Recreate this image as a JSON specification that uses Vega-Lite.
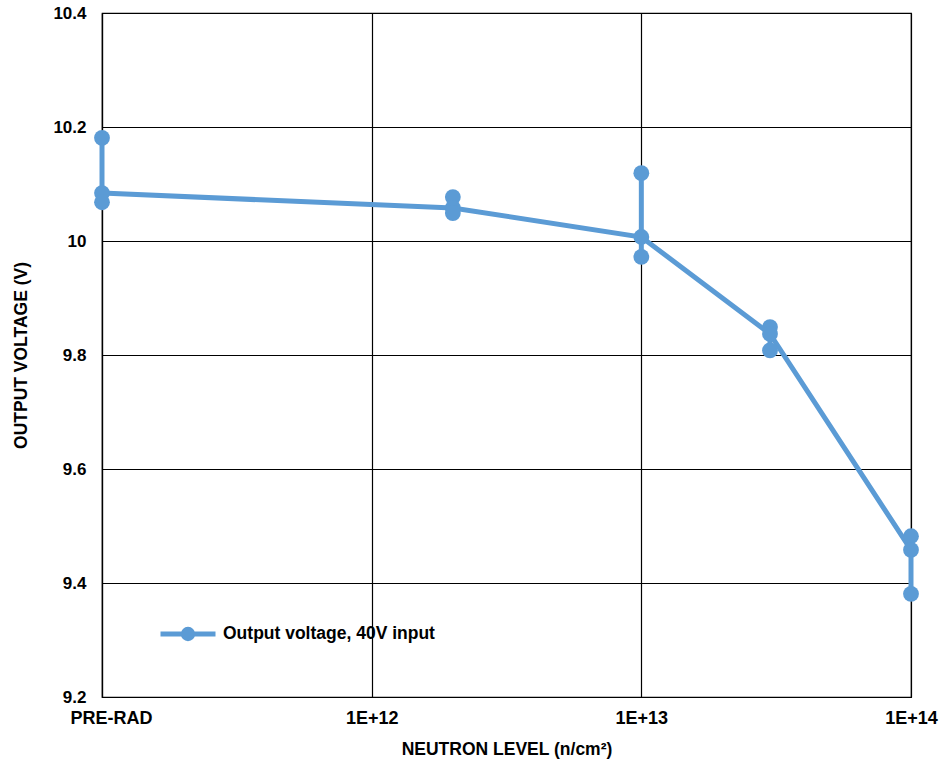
{
  "$schema": "https://vega.github.io/schema/vega-lite/v6.json",
  "autosize": "none",
  "width": 809,
  "height": 684,
  "padding": {"left": 102, "top": 13, "right": 30, "bottom": 66},
  "background": "white",
  "config": {
    "font": "Liberation Sans",
    "view": {"stroke": "black", "strokeWidth": 1.2},
    "axis": {
      "labelFont": "Liberation Sans", "labelFontWeight": "bold", "labelFontSize": 17, "labelColor": "black",
      "titleFont": "Liberation Sans", "titleFontWeight": "bold", "titleFontSize": 17.5, "titleColor": "black",
      "gridColor": "black", "gridOpacity": 1, "gridWidth": 1.2,
      "domainColor": "black", "domainWidth": 1.2, "ticks": false
    }
  },
  "data": {
    "values": [
      {"level": 1e11, "v": 10.181, "series": "Output voltage, 40V input"},
      {"level": 1e11, "v": 10.084, "series": "Output voltage, 40V input"},
      {"level": 1e11, "v": 10.068, "series": "Output voltage, 40V input"},
      {"level": 2e12, "v": 10.077, "series": "Output voltage, 40V input"},
      {"level": 2e12, "v": 10.058, "series": "Output voltage, 40V input"},
      {"level": 2e12, "v": 10.049, "series": "Output voltage, 40V input"},
      {"level": 1e13, "v": 10.119, "series": "Output voltage, 40V input"},
      {"level": 1e13, "v": 10.007, "series": "Output voltage, 40V input"},
      {"level": 1e13, "v": 9.972, "series": "Output voltage, 40V input"},
      {"level": 3e13, "v": 9.849, "series": "Output voltage, 40V input"},
      {"level": 3e13, "v": 9.837, "series": "Output voltage, 40V input"},
      {"level": 3e13, "v": 9.808, "series": "Output voltage, 40V input"},
      {"level": 1e14, "v": 9.482, "series": "Output voltage, 40V input"},
      {"level": 1e14, "v": 9.458, "series": "Output voltage, 40V input"},
      {"level": 1e14, "v": 9.381, "series": "Output voltage, 40V input"}
    ]
  },
  "layer": [
    {
      "mark": {"type": "rule", "color": "#5B9BD5", "strokeWidth": 5},
      "encoding": {
        "x": {"field": "level", "type": "quantitative", "scale": {"type": "log", "domain": [1e11, 1e14]}},
        "y": {"aggregate": "min", "field": "v", "type": "quantitative", "scale": {"domain": [9.2, 10.4]}},
        "y2": {"aggregate": "max", "field": "v"}
      }
    },
    {
      "mark": {"type": "line", "color": "#5B9BD5", "strokeWidth": 5},
      "encoding": {
        "x": {"field": "level", "type": "quantitative"},
        "y": {"aggregate": "median", "field": "v", "type": "quantitative"}
      }
    },
    {
      "mark": {"type": "point", "filled": true, "shape": "circle", "size": 250, "opacity": 1},
      "encoding": {
        "x": {
          "field": "level", "type": "quantitative",
          "scale": {"type": "log", "domain": [1e11, 1e14]},
          "axis": {
            "values": [1e11, 1e12, 1e13, 1e14],
            "labelExpr": "datum.value < 5e11 ? 'PRE-RAD' : datum.value < 5e12 ? '1E+12' : datum.value < 5e13 ? '1E+13' : '1E+14'",
            "labelOffset": {"condition": {"test": "datum.value < 5e11", "value": 9}, "value": 0},
            "labelFontSize": 18,
            "labelPadding": 12, "titlePadding": 13, "grid": true,
            "labelFlush": false,
            "title": "NEUTRON LEVEL (n/cm²)"
          }
        },
        "y": {
          "field": "v", "type": "quantitative",
          "scale": {"domain": [9.2, 10.4], "nice": false},
          "axis": {
            "values": [9.2, 9.4, 9.6, 9.8, 10, 10.2, 10.4],
            "format": "~g", "labelPadding": 16, "titlePadding": 22, "grid": true,
            "title": "OUTPUT VOLTAGE (V)"
          }
        },
        "color": {
          "field": "series", "type": "nominal",
          "scale": {"range": ["#5B9BD5"]},
          "legend": {
            "title": null, "orient": "none", "legendX": 56, "legendY": 591,
            "symbolType": "M-1,0H1M0.17,0A0.17,0.17 0 1,1 -0.17,0A0.17,0.17 0 1,1 0.17,0",
            "symbolSize": 3025, "symbolStrokeWidth": 5, "symbolFillColor": "#5B9BD5", "symbolStrokeColor": "#5B9BD5",
            "labelFont": "Liberation Sans", "labelFontWeight": "bold", "labelFontSize": 17.5, "labelColor": "black",
            "labelOffset": 5, "labelLimit": 0
          }
        }
      }
    }
  ]
}
